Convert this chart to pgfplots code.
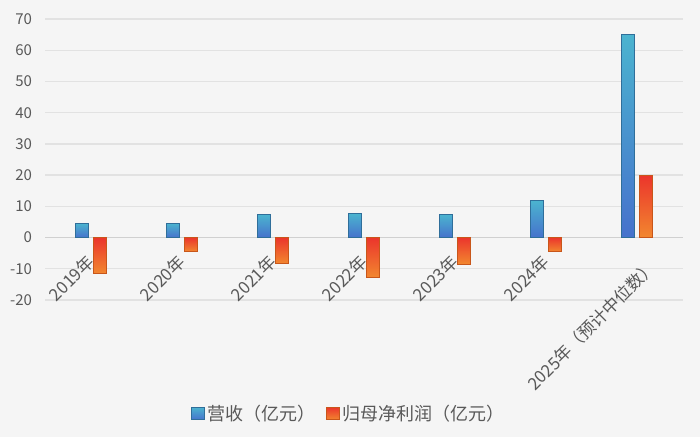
\documentclass[border=0pt]{standalone}
\usepackage{fontspec}
\setmainfont{Noto Sans CJK SC}
\usepackage{pgfplots}
\pgfplotsset{compat=1.18}

\definecolor{bg}{HTML}{F5F5F5}
\definecolor{gridc}{HTML}{E2E2E2}
\definecolor{zeroc}{HTML}{D0D0D0}
\definecolor{txt}{HTML}{595959}
\definecolor{revtop}{HTML}{4BB3CF}
\definecolor{revbot}{HTML}{4672CC}
\definecolor{revedge}{HTML}{2F6E9A}
\definecolor{nettop}{HTML}{EB352C}
\definecolor{netbot}{HTML}{F2872F}
\definecolor{netedge}{HTML}{C8561A}

\pgfplotsset{
    rev/.style={ybar, bar width=13bp, bar shift=-9bp, forget plot,
        top color=revtop, bottom color=revbot, draw=revedge, line width=0.8bp},
    net/.style={ybar, bar width=13bp, bar shift=9bp, forget plot,
        top color=nettop, bottom color=netbot, draw=netedge, line width=0.8bp},
}
% shifts below act in the rotated frame of the label
\tikzset{
    xlab/.style={rotate=45, anchor=north east, inner sep=0pt, text=txt,
        font=\fontsize{17bp}{19bp}\selectfont},
}

\begin{document}
\begin{tikzpicture}
% background of the whole chart, in the same bp units as the axis
\fill[bg] (-45.5bp,-137bp) rectangle (654.5bp,300bp);
\begin{axis}[
    at={(0,0)}, anchor=south west,
    scale only axis,
    clip=false,
    width=637bp, height=281bp,
    xmin=-0.5, xmax=6.5,
    ymin=-20, ymax=70,
    axis x line*=middle,
    axis y line*=left,
    x axis line style={draw=zeroc, line width=1.3bp},
    y axis line style={draw=none},
    major tick length=0pt,
    ytick={-20,-10,...,70},
    yticklabels={-20,-10,0,10,20,30,40,50,60,70},
    ymajorgrids,
    grid style={draw=gridc, line width=1.3bp},
    yticklabel style={font=\fontsize{15bp}{17bp}\selectfont, text=txt, xshift=-10bp},
    xtick={0,...,6},
    xticklabels={},
    legend style={at={(0.476,-0.404)}, anchor=center, draw=none, fill=none,
        font=\fontsize{18bp}{20bp}\selectfont, text=txt,
        /tikz/every even column/.append style={column sep=9bp}},
    legend columns=2,
    legend image code/.code={\draw[#1] (0bp,-6.3bp) rectangle (13bp,6.3bp);},
]
\addlegendimage{top color=revtop, bottom color=revbot, draw=revedge, line width=0.8bp}
\addlegendentry{营收（亿元）}
\addlegendimage{top color=nettop, bottom color=netbot, draw=netedge, line width=0.8bp}
\addlegendentry{归母净利润（亿元）}
% 营收（亿元）, one plot per bar so that each bar gets its own gradient
\addplot[rev] coordinates {(0,4.5)};
\addplot[rev] coordinates {(1,4.5)};
\addplot[rev] coordinates {(2,7.3)};
\addplot[rev] coordinates {(3,7.6)};
\addplot[rev] coordinates {(4,7.3)};
\addplot[rev] coordinates {(5,11.8)};
\addplot[rev] coordinates {(6,65)};
% 归母净利润（亿元）
\addplot[net] coordinates {(0,-11.5)};
\addplot[net] coordinates {(1,-4.5)};
\addplot[net] coordinates {(2,-8.3)};
\addplot[net] coordinates {(3,-12.8)};
\addplot[net] coordinates {(4,-8.5)};
\addplot[net] coordinates {(5,-4.5)};
\addplot[net] coordinates {(6,20)};
% category labels sit on the zero line, drawn over the bars
\node[xlab, xshift=-15bp, yshift=-7bp] at (axis cs:0,0) {2019年};
\node[xlab, xshift=-15bp, yshift=-7bp] at (axis cs:1,0) {2020年};
\node[xlab, xshift=-15bp, yshift=-7bp] at (axis cs:2,0) {2021年};
\node[xlab, xshift=-15bp, yshift=-7bp] at (axis cs:3,0) {2022年};
\node[xlab, xshift=-15bp, yshift=-7bp] at (axis cs:4,0) {2023年};
\node[xlab, xshift=-15bp, yshift=-7bp] at (axis cs:5,0) {2024年};
\node[xlab, xshift=-7bp, yshift=-22bp] at (axis cs:6,0) {2025年（预计中位数）};
\end{axis}
\pgfresetboundingbox
\path[use as bounding box] (-45.5bp,-137bp) rectangle (654.5bp,300bp);
\end{tikzpicture}
\end{document}
